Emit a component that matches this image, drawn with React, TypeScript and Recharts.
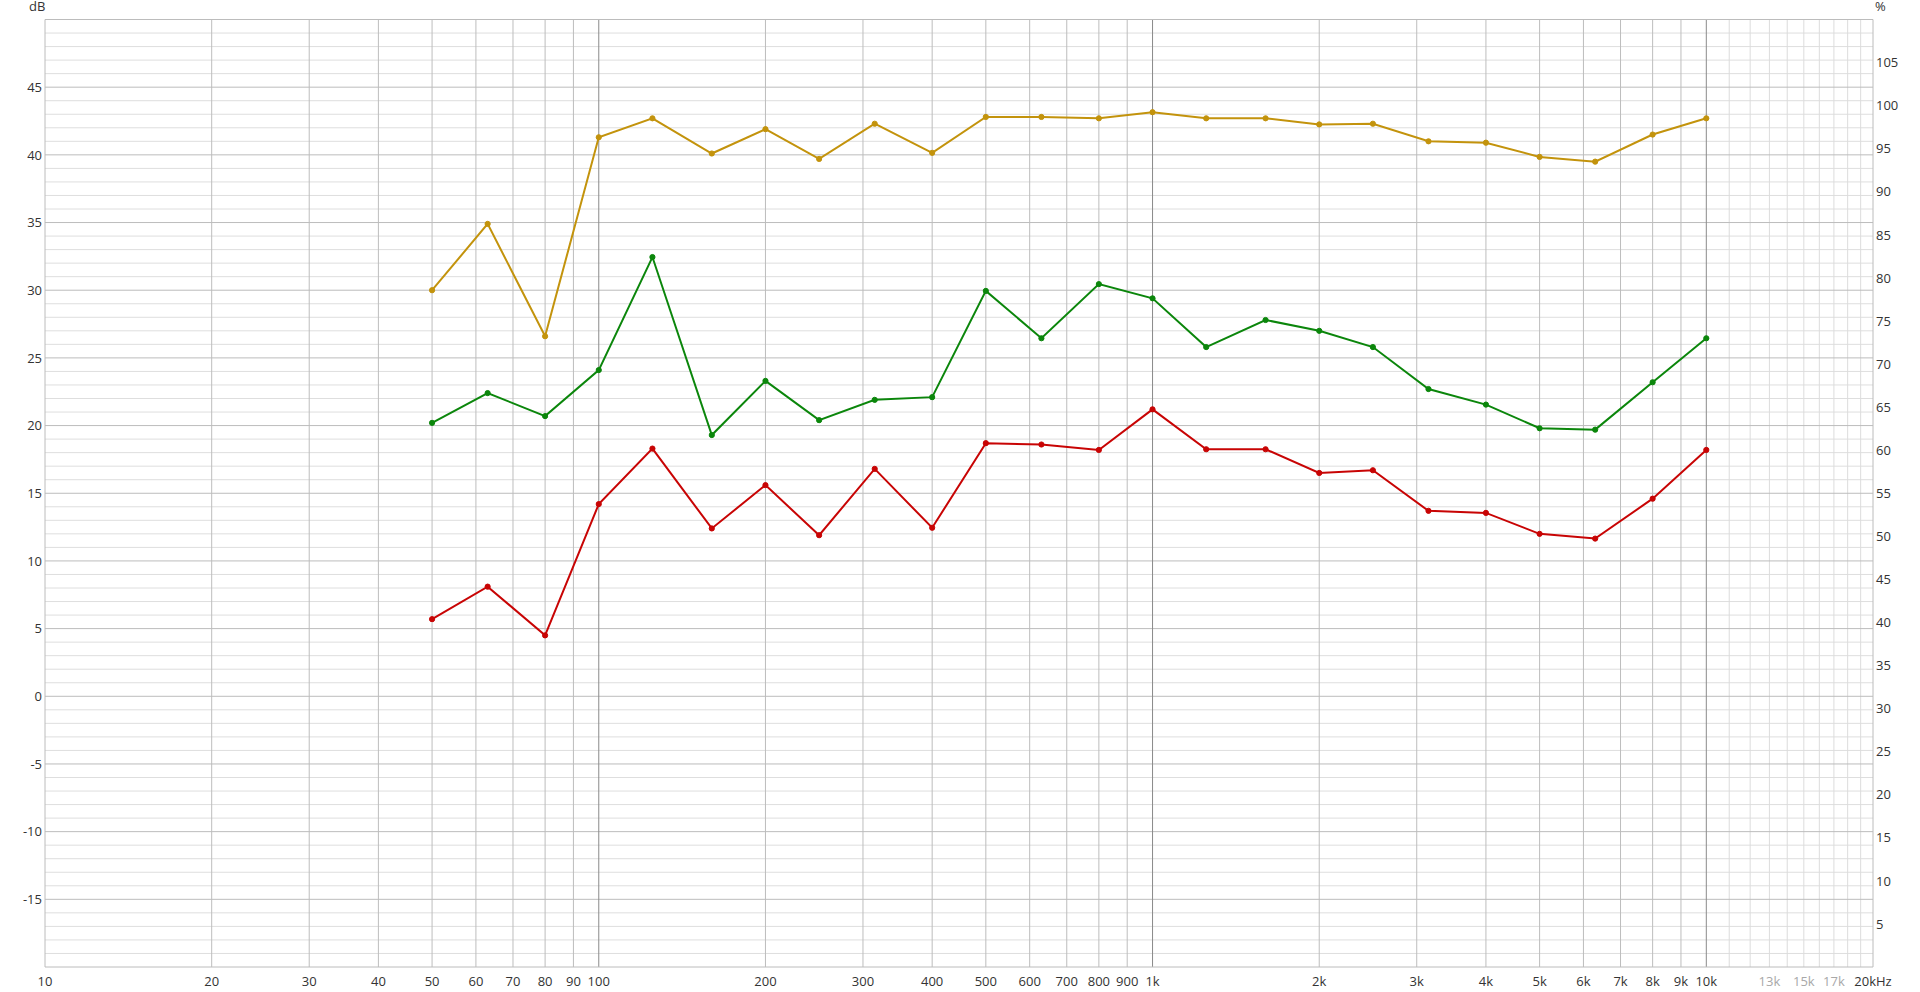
import React from 'react';
import { LineChart, Line, XAxis, YAxis, ReferenceLine } from 'recharts';

// ---- Data ----
const freqs = [50, 63, 80, 100, 125, 160, 200, 250, 315, 400, 500, 630, 800, 1000, 1250, 1600, 2000, 2500, 3150, 4000, 5000, 6300, 8000, 10000];
const goldSeries = [30.0, 34.9, 26.6, 41.3, 42.7, 40.1, 41.9, 39.7, 42.3, 40.15, 42.8, 42.8, 42.7, 43.15, 42.7, 42.7, 42.25, 42.3, 41.0, 40.9, 39.85, 39.5, 41.5, 42.7];
const greenSeries = [20.2, 22.4, 20.7, 24.1, 32.45, 19.3, 23.3, 20.4, 21.9, 22.1, 29.95, 26.45, 30.45, 29.4, 25.8, 27.8, 27.0, 25.8, 22.7, 21.55, 19.8, 19.7, 23.2, 26.45];
const redSeries = [5.7, 8.1, 4.5, 14.2, 18.3, 12.4, 15.6, 11.9, 16.8, 12.45, 18.7, 18.6, 18.2, 21.2, 18.25, 18.25, 16.5, 16.7, 13.7, 13.55, 12.0, 11.65, 14.6, 18.2];

const xTickValues = [10, 20, 30, 40, 50, 60, 70, 80, 90, 100, 200, 300, 400, 500, 600, 700, 800, 900, 1000, 2000, 3000, 4000, 5000, 6000, 7000, 8000, 9000, 10000, 13000, 15000, 17000, 20000];
const xTickLabels = ['10', '20', '30', '40', '50', '60', '70', '80', '90', '100', '200', '300', '400', '500', '600', '700', '800', '900', '1k', '2k', '3k', '4k', '5k', '6k', '7k', '8k', '9k', '10k', '13k', '15k', '17k', '20kHz'];
const xFadedTicks = [13000, 15000, 17000];

const decadeLines = [100, 1000, 10000];
const normalVLines = [20, 30, 40, 50, 60, 70, 80, 90, 200, 300, 400, 500, 600, 700, 800, 900, 2000, 3000, 4000, 5000, 6000, 7000, 8000, 9000];
const faintVLines = [11000, 12000, 13000, 14000, 15000, 16000, 17000, 18000, 19000];

const dbTicks = [-15, -10, -5, 0, 5, 10, 15, 20, 25, 30, 35, 40, 45];
const dbMinor = [-19, -18, -17, -16, -14, -13, -12, -11, -9, -8, -7, -6, -4, -3, -2, -1, 1, 2, 3, 4, 6, 7, 8, 9, 11, 12, 13, 14, 16, 17, 18, 19, 21, 22, 23, 24, 26, 27, 28, 29, 31, 32, 33, 34, 36, 37, 38, 39, 41, 42, 43, 44, 46, 47, 48, 49];
const pctTicks = [5, 10, 15, 20, 25, 30, 35, 40, 45, 50, 55, 60, 65, 70, 75, 80, 85, 90, 95, 100, 105];

const rows = freqs.map((f, i) => ({ f, gold: goldSeries[i], green: greenSeries[i], red: redSeries[i] }));

const FONT = '"Open Sans", "Noto Sans", sans-serif';
const FS = 13;
const TXT = '#333333';

const GOLD = '#C3930C';
const GREEN = '#0B860B';
const RED = '#C80404';

const XTick = (props: any) => {
  const { x, y, payload } = props;
  const v = payload.value;
  const idx = xTickValues.indexOf(v);
  const label = idx >= 0 ? xTickLabels[idx] : String(v);
  return (
    <text x={x} y={y} dy={18.5} textAnchor="middle" fontFamily={FONT} fontSize={FS} fill={xFadedTicks.includes(v) ? '#a8a8a8' : TXT}>
      {label}
    </text>
  );
};

const LeftTick = (props: any) => {
  const { x, y, payload } = props;
  return (
    <text x={x} y={y} dy="0.36em" textAnchor="end" fontFamily={FONT} fontSize={FS} fill={TXT}>
      {payload.value}
    </text>
  );
};

const RightTick = (props: any) => {
  const { x, y, payload } = props;
  return (
    <text x={x} y={y} dy="0.36em" textAnchor="start" fontFamily={FONT} fontSize={FS} fill={TXT}>
      {payload.value}
    </text>
  );
};

export default function App() {
  return (
    <div style={{ position: 'absolute', left: 0, top: 0, width: 1920, height: 992, background: '#fff' }}>
      <LineChart width={1920} height={992} data={rows} margin={{ top: 19.5, right: 0, bottom: 0, left: 0 }}>
        <XAxis
          dataKey="f"
          type="number"
          scale="log"
          domain={[10, 20000]}
          ticks={xTickValues}
          interval={0}
          allowDataOverflow
          axisLine={false}
          tickLine={false}
          tickSize={0}
          tickMargin={0}
          height={25}
          tick={<XTick />}
        />
        <YAxis
          yAxisId="left"
          type="number"
          domain={[-20, 50]}
          ticks={dbTicks}
          interval={0}
          allowDataOverflow
          axisLine={false}
          tickLine={false}
          tickSize={0}
          tickMargin={3}
          width={45}
          tick={<LeftTick />}
        />
        <YAxis
          yAxisId="right"
          orientation="right"
          type="number"
          domain={[0, 110]}
          ticks={pctTicks}
          interval={0}
          allowDataOverflow
          axisLine={false}
          tickLine={false}
          tickSize={0}
          tickMargin={3}
          width={47}
          tick={<RightTick />}
        />

        {dbMinor.map((v) => (
          <ReferenceLine key={'hm' + v} yAxisId="left" y={v} stroke="#dedede" strokeWidth={1} />
        ))}
        {faintVLines.map((v) => (
          <ReferenceLine key={'vf' + v} yAxisId="left" x={v} stroke="#dcdcdc" strokeWidth={1} />
        ))}
        {normalVLines.map((v) => (
          <ReferenceLine key={'vn' + v} yAxisId="left" x={v} stroke="#bdbdbd" strokeWidth={1} />
        ))}
        {dbTicks.map((v) => (
          <ReferenceLine key={'hM' + v} yAxisId="left" y={v} stroke="#bcbcbc" strokeWidth={1} />
        ))}
        {decadeLines.map((v) => (
          <ReferenceLine key={'vd' + v} yAxisId="left" x={v} stroke="#8a8a8a" strokeWidth={1} />
        ))}
        <ReferenceLine yAxisId="left" y={50} stroke="#bcbcbc" strokeWidth={1} ifOverflow="extendDomain" />
        <ReferenceLine yAxisId="left" y={-20} stroke="#bcbcbc" strokeWidth={1} ifOverflow="extendDomain" />
        <ReferenceLine yAxisId="left" x={10} stroke="#bcbcbc" strokeWidth={1} ifOverflow="extendDomain" />
        <ReferenceLine yAxisId="left" x={20000} stroke="#bcbcbc" strokeWidth={1} ifOverflow="extendDomain" />

        <Line yAxisId="left" type="linear" dataKey="gold" stroke={GOLD} strokeWidth={2} dot={{ r: 2.6, fill: GOLD, stroke: GOLD, strokeWidth: 1 }} activeDot={false} isAnimationActive={false} />
        <Line yAxisId="left" type="linear" dataKey="green" stroke={GREEN} strokeWidth={2} dot={{ r: 2.6, fill: GREEN, stroke: GREEN, strokeWidth: 1 }} activeDot={false} isAnimationActive={false} />
        <Line yAxisId="left" type="linear" dataKey="red" stroke={RED} strokeWidth={2} dot={{ r: 2.6, fill: RED, stroke: RED, strokeWidth: 1 }} activeDot={false} isAnimationActive={false} />
      </LineChart>
      <div style={{ position: 'absolute', left: 29, top: -1, fontFamily: FONT, fontSize: FS, color: TXT, lineHeight: '15px' }}>dB</div>
      <div style={{ position: 'absolute', left: 1875, top: -1, fontFamily: FONT, fontSize: FS, color: TXT, lineHeight: '15px' }}>%</div>
    </div>
  );
}
